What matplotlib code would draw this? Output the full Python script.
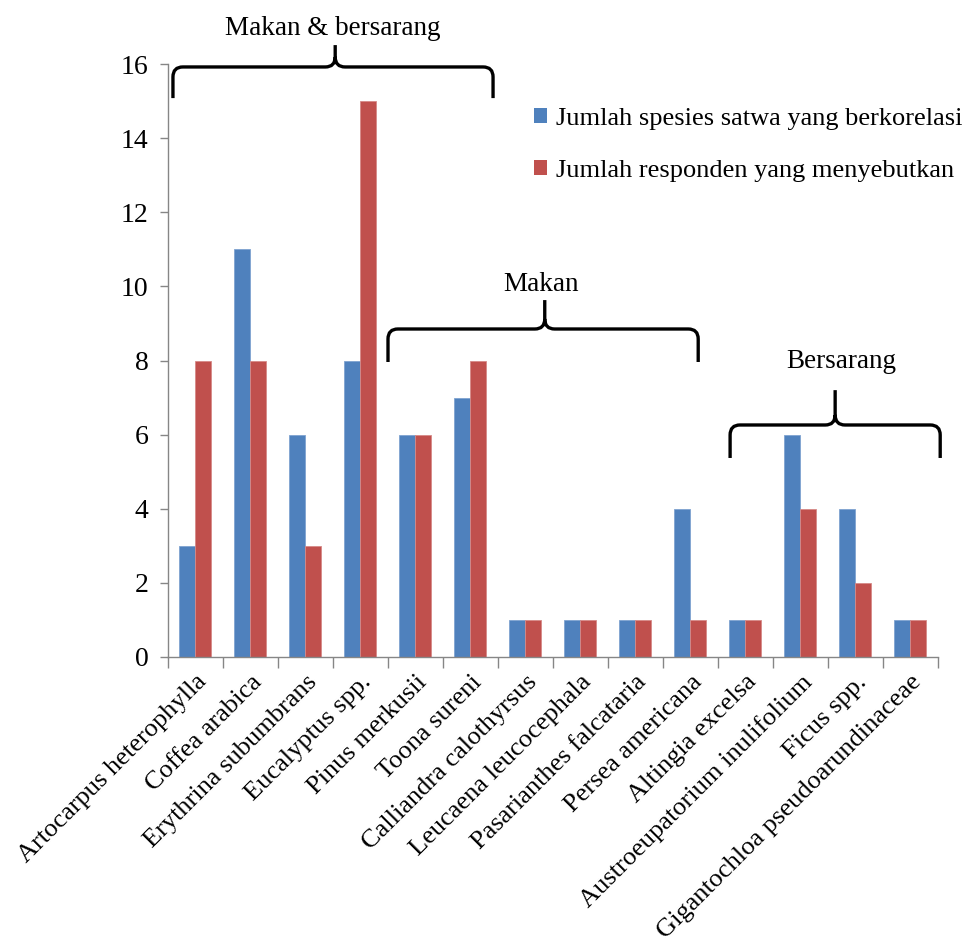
import matplotlib
matplotlib.use("Agg")
import matplotlib.pyplot as plt
from matplotlib.path import Path
from matplotlib.patches import PathPatch, Patch
import numpy as np

categories = ["Artocarpus heterophylla", "Coffea arabica", "Erythrina subumbrans",
              "Eucalyptus spp.", "Pinus merkusii", "Toona sureni", "Calliandra calothyrsus",
              "Leucaena leucocephala", "Pasarianthes falcataria", "Persea americana",
              "Altingia excelsa", "Austroeupatorium inulifolium", "Ficus spp.",
              "Gigantochloa pseudoarundinaceae"]
satwa = [3, 11, 6, 8, 6, 7, 1, 1, 1, 4, 1, 6, 4, 1]
responden = [8, 8, 3, 15, 6, 8, 1, 1, 1, 1, 1, 4, 2, 1]
series_names = ["Jumlah spesies satwa yang berkorelasi", "Jumlah responden yang menyebutkan"]
yticks = [0, 2, 4, 6, 8, 10, 12, 14, 16]

plt.rcParams['font.family'] = ['Liberation Serif', 'DejaVu Serif']
FS = 19.5

fig = plt.figure(figsize=(9.68, 9.46), dpi=100)
ax = fig.add_axes([168/968, 1-657/946, 770/968, 593/946])

x = np.arange(len(categories))
w = 0.29
blue = "#4F81BD"
red = "#C0504D"
ax.bar(x - w/2 - 0.01, satwa, w, color=blue, edgecolor="#7FA3D0", linewidth=0.6)
ax.bar(x + w/2 - 0.01, responden, w, color=red, edgecolor="#D68A88", linewidth=0.6)

ax.set_xlim(-0.5, len(categories) - 0.5)
ax.set_ylim(0, 16)
ax.set_yticks(yticks)
ax.set_yticklabels([str(v) for v in yticks], fontsize=20)
ax.set_xticks(x)
ax.set_xticklabels(categories, rotation=45, ha='right', va='top', rotation_mode='anchor', fontsize=19)
ax.tick_params(axis='x', which='major', length=0, pad=10)
ax.set_xticks(np.arange(-0.5, len(categories)), minor=True)
ax.tick_params(axis='x', which='minor', length=8, color="#868686", width=1)
ax.tick_params(axis='y', length=6, color="#868686", width=1, pad=8)
for s in ['top', 'right']:
    ax.spines[s].set_visible(False)
for s in ['left', 'bottom']:
    ax.spines[s].set_color("#868686")
    ax.spines[s].set_linewidth(1)

def brace(x0, x1, xm, ytop, yend, ytip, rx=0.18, ry=0.27):
    verts = [(x0, yend), (x0, ytop - ry), (x0, ytop), (x0 + rx, ytop),
             (xm - rx, ytop), (xm, ytop), (xm, ytop + ry), (xm, ytip)]
    codes = [Path.MOVETO, Path.LINETO, Path.CURVE3, Path.CURVE3,
             Path.LINETO, Path.CURVE3, Path.CURVE3, Path.LINETO]
    verts2 = [(xm, ytop + ry), (xm, ytop), (xm + rx, ytop),
              (x1 - rx, ytop), (x1, ytop), (x1, ytop - ry), (x1, yend)]
    codes2 = [Path.MOVETO, Path.CURVE3, Path.CURVE3,
              Path.LINETO, Path.CURVE3, Path.CURVE3, Path.LINETO]
    p = Path(verts + verts2, codes + codes2)
    ax.add_patch(PathPatch(p, facecolor='none', edgecolor='black', lw=2.4,
                           clip_on=False, capstyle='butt', joinstyle='round'))

brace(-0.41, 5.41, 2.54, 15.92, 15.08, 16.51)
brace(3.5, 9.14, 6.35, 8.85, 7.96, 9.63)
brace(9.72, 13.54, 11.63, 6.26, 5.37, 7.2)

ax.text(2.5, 16.97, "Makan & bersarang", ha='center', va='center', fontsize=FS, clip_on=False)
ax.text(6.28, 10.04, "Makan", ha='center', va='center', fontsize=FS)
ax.text(11.75, 7.96, "Bersarang", ha='center', va='center', fontsize=FS)

handles = [Patch(facecolor=blue), Patch(facecolor=red)]
fig.legend(handles, series_names, loc='upper left', bbox_to_anchor=(534/968, 1-108/946),
           frameon=False, fontsize=19, handlelength=0.5, handleheight=0.5,
           handletextpad=0.35, labelspacing=1.15, borderpad=0, borderaxespad=0)

fig.savefig("out.png", dpi=100)
